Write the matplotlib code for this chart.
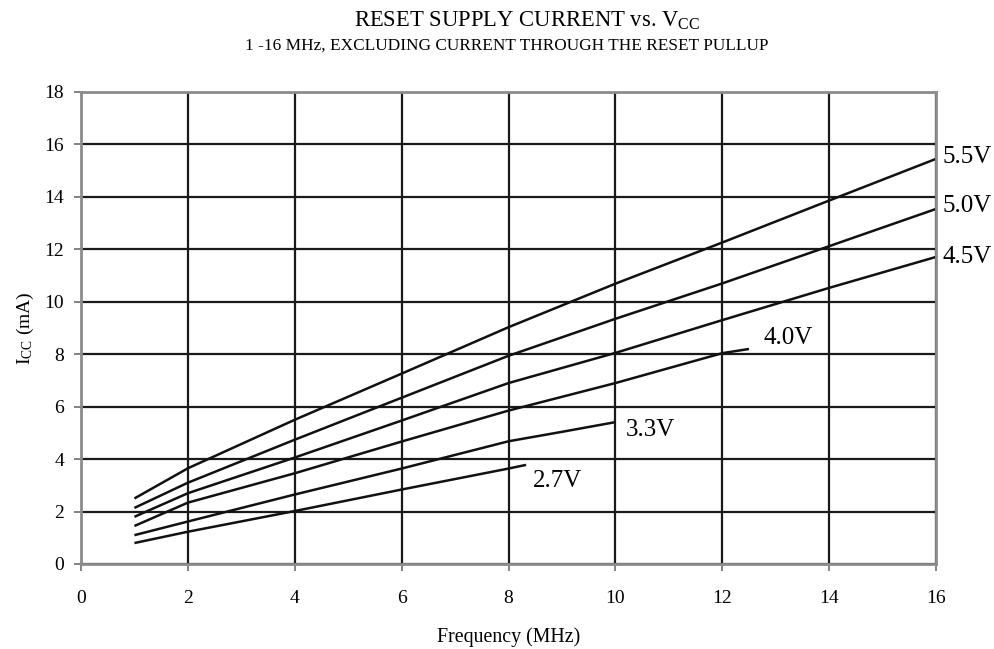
import matplotlib
matplotlib.use("Agg")
import matplotlib.pyplot as plt

plt.rcParams['font.family'] = ['Liberation Serif', 'DejaVu Serif']
plt.rcParams['mathtext.fontset'] = 'custom'
plt.rcParams['mathtext.rm'] = 'Liberation Serif'
plt.rcParams['mathtext.it'] = 'Liberation Serif:italic'

# Supply current (mA) vs. frequency (MHz) for each Vcc
freq_55 = [1, 2, 4, 6, 8, 10, 12, 14, 16]
icc_55 = [2.5, 3.65, 5.5, 7.26, 9.03, 10.69, 12.26, 13.86, 15.45]

freq_50 = [1, 2, 4, 6, 8, 10, 12, 14, 16]
icc_50 = [2.14, 3.1, 4.74, 6.34, 7.94, 9.35, 10.7, 12.12, 13.54]

freq_45 = [1, 2, 4, 6, 8, 10, 12, 14, 16]
icc_45 = [1.8, 2.7, 4.06, 5.47, 6.9, 8.05, 9.3, 10.53, 11.71]

freq_40 = [1, 2, 4, 6, 8, 10, 12, 12.5]
icc_40 = [1.45, 2.34, 3.46, 4.67, 5.85, 6.9, 8.04, 8.2]

freq_33 = [1, 2, 4, 6, 8, 9, 10]
icc_33 = [1.1, 1.62, 2.65, 3.64, 4.68, 5.04, 5.41]

freq_27 = [1, 2, 4, 6, 8, 8.33]
icc_27 = [0.8, 1.23, 2.02, 2.84, 3.64, 3.78]

curve_labels = ['5.5V', '5.0V', '4.5V', '4.0V', '3.3V', '2.7V']
label_pos = [(16.12, 15.54), (16.12, 13.65), (16.12, 11.7),
             (12.77, 8.62), (10.2, 5.11), (8.45, 3.15)]

x_ticks = [0, 2, 4, 6, 8, 10, 12, 14, 16]
y_ticks = [0, 2, 4, 6, 8, 10, 12, 14, 16, 18]

fig = plt.figure(figsize=(9.94, 6.49), dpi=100)
ax = fig.add_axes([81 / 994, 1 - 564 / 649, (936 - 81) / 994, (564 - 92) / 649])

ax.set_xlim(0, 16)
ax.set_ylim(0, 18)
ax.set_xticks(x_ticks)
ax.set_yticks(y_ticks)
ax.grid(True, color='#1a1a1a', linewidth=1.6)
ax.set_axisbelow(True)

for s in ax.spines.values():
    s.set_color('#8c8c8c')
    s.set_linewidth(2.0)
ax.tick_params(direction='out', length=5, width=1.2, color='#6e6e6e',
               labelsize=14)
ax.tick_params(axis='x', pad=14)
ax.tick_params(axis='y', pad=7)

series = [(freq_55, icc_55), (freq_50, icc_50), (freq_45, icc_45),
          (freq_40, icc_40), (freq_33, icc_33), (freq_27, icc_27)]
for (fx, fy), lab, (lx, ly) in zip(series, curve_labels, label_pos):
    ax.plot(fx, fy, color='#111111', linewidth=1.8, solid_capstyle='butt')
    ax.text(lx, ly, lab, fontsize=18, ha='left', va='center', clip_on=False)

ax.set_xlabel('Frequency (MHz)', fontsize=14.3, labelpad=14)
ax.set_ylabel(r'I$_\mathrm{CC}$ (mA)', fontsize=14, labelpad=6)

fig.text(527 / 994, 1 - 21 / 649, r'RESET SUPPLY CURRENT vs. V$_\mathrm{CC}$',
         fontsize=16.3, ha='center', va='center')
fig.text(507 / 994, 1 - 46 / 649,
         '1 -16 MHz, EXCLUDING CURRENT THROUGH THE RESET PULLUP',
         fontsize=12.4, ha='center', va='center')

fig.savefig('out.png', dpi=100)
